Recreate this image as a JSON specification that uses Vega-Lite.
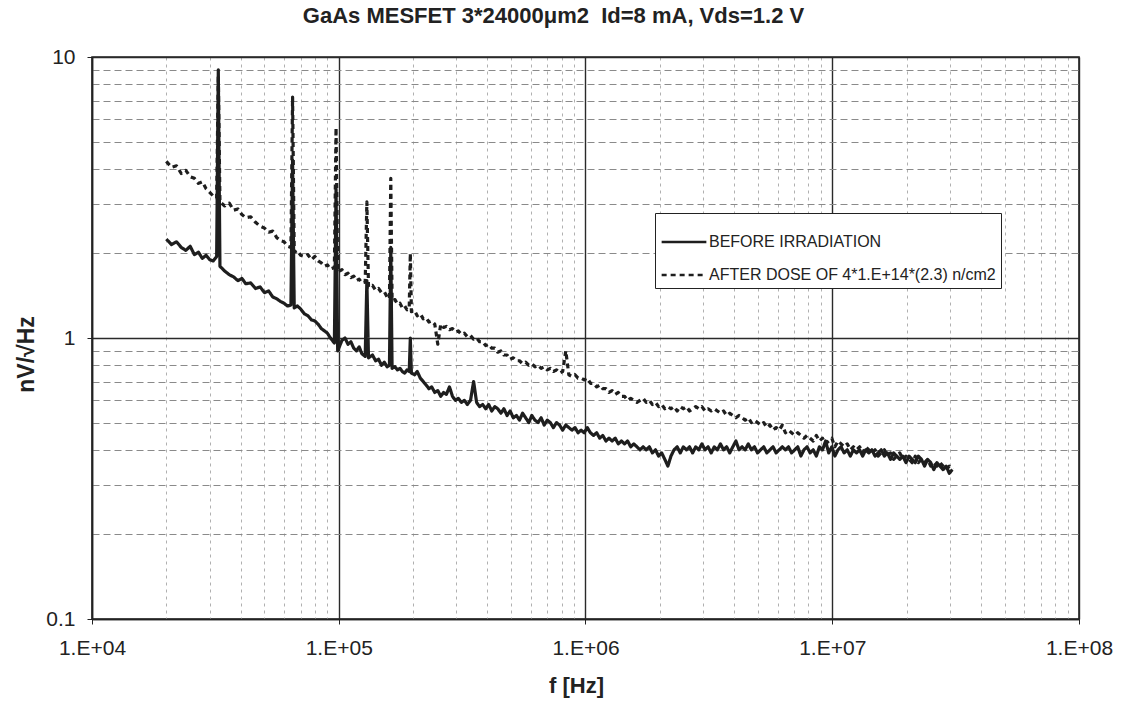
{
  "$schema": "https://vega.github.io/schema/vega-lite/v6.json",
  "width": 987,
  "height": 562,
  "autosize": "none",
  "padding": {"left": 92, "top": 57, "right": 53, "bottom": 86},
  "background": "white",
  "config": {
    "font": "Liberation Sans",
    "view": {"stroke": "#222", "strokeWidth": 1.6}
  },
  "title": {
    "text": "GaAs MESFET 3*24000μm2\u00a0\u00a0Id=8 mA, Vds=1.2 V",
    "font": "Liberation Sans",
    "fontSize": 22,
    "fontWeight": "bold",
    "color": "#222",
    "anchor": "middle",
    "dx": -32,
    "offset": 18
  },
  "data": {
    "values": [
      {"f":20000,"b":2.25,"a":4.25},{"f":21000,"b":2.15,"a":4.05},{"f":22000,"b":2.2,"a":4.1},{"f":23000,"b":2.1,"a":3.85},
      {"f":24000,"b":2.05,"a":3.95},{"f":25000,"b":2.12,"a":3.75},{"f":26000,"b":1.98,"a":3.7},{"f":27000,"b":2.02,"a":3.55},
      {"f":28000,"b":1.92,"a":3.6},{"f":29000,"b":1.97,"a":3.4},{"f":30000,"b":1.9,"a":3.3},{"f":31000,"b":1.88,"a":3.2},
      {"f":32000,"b":1.95,"a":3.15},{"f":32500,"b":9.0,"a":8.6},{"f":33000,"b":1.8,"a":3.05},{"f":34500,"b":1.73,"a":2.95},
      {"f":36000,"b":1.68,"a":3.02},{"f":37500,"b":1.65,"a":2.85},{"f":39000,"b":1.6,"a":2.88},{"f":40500,"b":1.63,"a":2.75},
      {"f":42000,"b":1.56,"a":2.68},{"f":44000,"b":1.57,"a":2.7},{"f":46000,"b":1.5,"a":2.58},{"f":48000,"b":1.52,"a":2.5},
      {"f":50000,"b":1.45,"a":2.46},{"f":52000,"b":1.47,"a":2.38},{"f":54000,"b":1.4,"a":2.4},{"f":56000,"b":1.38,"a":2.28},
      {"f":58000,"b":1.35,"a":2.22},{"f":60000,"b":1.33,"a":2.2},{"f":62000,"b":1.3,"a":2.12},{"f":64000,"b":1.31,"a":2.1},
      {"f":65000,"b":4.3,"a":7.2},{"f":66000,"b":1.28,"a":2.02},{"f":68000,"b":1.3,"a":2.05},{"f":70000,"b":1.27,"a":1.97},
      {"f":72500,"b":1.22,"a":1.95},{"f":75000,"b":1.2,"a":1.98},{"f":77500,"b":1.16,"a":1.9},{"f":80000,"b":1.15,"a":1.95},
      {"f":82500,"b":1.12,"a":1.88},{"f":85000,"b":1.08,"a":1.85},{"f":87500,"b":1.06,"a":1.8},{"f":90000,"b":1.04,"a":1.82},
      {"f":92500,"b":1.0,"a":1.76},{"f":96000,"b":0.96,"a":1.78},{"f":97500,"b":3.4,"a":5.6},{"f":99000,"b":0.9,"a":1.72},
      {"f":103000,"b":0.98,"a":1.75},{"f":106000,"b":1.0,"a":1.68},{"f":109000,"b":0.95,"a":1.7},{"f":112000,"b":0.97,"a":1.64},
      {"f":115000,"b":0.92,"a":1.66},{"f":118000,"b":0.9,"a":1.6},{"f":121000,"b":0.93,"a":1.62},{"f":124000,"b":0.88,"a":1.57},
      {"f":128000,"b":0.86,"a":1.58},{"f":130000,"b":1.6,"a":3.05},{"f":132000,"b":0.85,"a":1.52},{"f":137000,"b":0.87,"a":1.54},
      {"f":141000,"b":0.83,"a":1.48},{"f":145000,"b":0.84,"a":1.5},{"f":149000,"b":0.8,"a":1.45},{"f":153000,"b":0.82,"a":1.46},
      {"f":157000,"b":0.79,"a":1.4},{"f":160500,"b":0.8,"a":1.38},{"f":162500,"b":2.1,"a":3.7},{"f":164500,"b":0.78,"a":1.36},
      {"f":169000,"b":0.79,"a":1.37},{"f":173000,"b":0.77,"a":1.32},{"f":177000,"b":0.78,"a":1.33},{"f":181000,"b":0.76,"a":1.28},
      {"f":185000,"b":0.75,"a":1.3},{"f":189000,"b":0.77,"a":1.26},{"f":193000,"b":0.76,"a":1.27},{"f":195000,"b":1.0,"a":2.0},
      {"f":197000,"b":0.75,"a":1.24},{"f":203000,"b":0.74,"a":1.25},{"f":208000,"b":0.76,"a":1.2},{"f":214000,"b":0.72,"a":1.22},
      {"f":220000,"b":0.7,"a":1.17},{"f":226000,"b":0.68,"a":1.18},{"f":232000,"b":0.66,"a":1.14},{"f":238000,"b":0.67,"a":1.15},
      {"f":245000,"b":0.64,"a":1.12},{"f":252000,"b":0.65,"a":0.95},{"f":259000,"b":0.62,"a":1.12},{"f":266000,"b":0.64,"a":1.09},
      {"f":273000,"b":0.63,"a":1.1},{"f":281000,"b":0.67,"a":1.07},{"f":289000,"b":0.62,"a":1.08},{"f":297000,"b":0.6,"a":1.05},
      {"f":305000,"b":0.61,"a":1.06},{"f":314000,"b":0.59,"a":1.03},{"f":323000,"b":0.6,"a":1.04},{"f":332000,"b":0.58,"a":1.01},
      {"f":342000,"b":0.6,"a":1.02},{"f":352000,"b":0.7,"a":0.99},{"f":362000,"b":0.59,"a":1.0},{"f":372000,"b":0.57,"a":0.97},
      {"f":383000,"b":0.58,"a":0.97},{"f":394000,"b":0.56,"a":0.94},{"f":405000,"b":0.58,"a":0.95},{"f":417000,"b":0.55,"a":0.92},
      {"f":429000,"b":0.57,"a":0.92},{"f":441000,"b":0.56,"a":0.89},{"f":454000,"b":0.54,"a":0.9},{"f":467000,"b":0.56,"a":0.87},
      {"f":481000,"b":0.53,"a":0.87},{"f":495000,"b":0.55,"a":0.84},{"f":510000,"b":0.52,"a":0.85},{"f":525000,"b":0.53,"a":0.83},
      {"f":540000,"b":0.51,"a":0.83},{"f":556000,"b":0.54,"a":0.81},{"f":572000,"b":0.52,"a":0.82},{"f":589000,"b":0.5,"a":0.8},
      {"f":606000,"b":0.53,"a":0.81},{"f":624000,"b":0.51,"a":0.79},{"f":642000,"b":0.5,"a":0.8},{"f":661000,"b":0.52,"a":0.78},
      {"f":680000,"b":0.49,"a":0.79},{"f":700000,"b":0.51,"a":0.77},{"f":720000,"b":0.5,"a":0.78},{"f":741000,"b":0.48,"a":0.76},
      {"f":763000,"b":0.5,"a":0.77},{"f":785000,"b":0.49,"a":0.75},{"f":808000,"b":0.47,"a":0.76},{"f":832000,"b":0.49,"a":0.9},
      {"f":856000,"b":0.48,"a":0.74},{"f":881000,"b":0.47,"a":0.73},{"f":907000,"b":0.48,"a":0.74},{"f":933000,"b":0.46,"a":0.72},
      {"f":960000,"b":0.47,"a":0.72},{"f":988000,"b":0.46,"a":0.71},{"f":1017000,"b":0.48,"a":0.72},{"f":1047000,"b":0.46,"a":0.69},
      {"f":1078000,"b":0.45,"a":0.69},{"f":1110000,"b":0.46,"a":0.67},{"f":1142000,"b":0.44,"a":0.68},{"f":1175000,"b":0.45,"a":0.66},
      {"f":1210000,"b":0.43,"a":0.66},{"f":1245000,"b":0.44,"a":0.64},{"f":1282000,"b":0.43,"a":0.65},{"f":1320000,"b":0.44,"a":0.63},
      {"f":1358000,"b":0.42,"a":0.64},{"f":1398000,"b":0.43,"a":0.62},{"f":1439000,"b":0.42,"a":0.62},{"f":1481000,"b":0.43,"a":0.6},
      {"f":1525000,"b":0.41,"a":0.61},{"f":1570000,"b":0.42,"a":0.6},{"f":1616000,"b":0.41,"a":0.59},{"f":1663000,"b":0.4,"a":0.6},
      {"f":1712000,"b":0.41,"a":0.61},{"f":1762000,"b":0.4,"a":0.59},{"f":1814000,"b":0.41,"a":0.6},{"f":1867000,"b":0.39,"a":0.58},
      {"f":1922000,"b":0.4,"a":0.59},{"f":1978000,"b":0.38,"a":0.57},{"f":2036000,"b":0.39,"a":0.58},{"f":2096000,"b":0.37,"a":0.56},
      {"f":2157000,"b":0.35,"a":0.57},{"f":2220000,"b":0.38,"a":0.56},{"f":2285000,"b":0.4,"a":0.57},{"f":2352000,"b":0.41,"a":0.55},
      {"f":2421000,"b":0.39,"a":0.57},{"f":2492000,"b":0.41,"a":0.56},{"f":2565000,"b":0.4,"a":0.57},{"f":2640000,"b":0.41,"a":0.55},
      {"f":2717000,"b":0.39,"a":0.56},{"f":2797000,"b":0.41,"a":0.57},{"f":2879000,"b":0.4,"a":0.56},{"f":2963000,"b":0.42,"a":0.57},
      {"f":3050000,"b":0.4,"a":0.55},{"f":3139000,"b":0.41,"a":0.56},{"f":3231000,"b":0.39,"a":0.55},{"f":3326000,"b":0.41,"a":0.56},
      {"f":3423000,"b":0.4,"a":0.55},{"f":3523000,"b":0.42,"a":0.54},{"f":3626000,"b":0.4,"a":0.55},{"f":3732000,"b":0.41,"a":0.53},
      {"f":3842000,"b":0.39,"a":0.54},{"f":3954000,"b":0.41,"a":0.53},{"f":4070000,"b":0.43,"a":0.52},{"f":4189000,"b":0.4,"a":0.53},
      {"f":4312000,"b":0.41,"a":0.52},{"f":4438000,"b":0.4,"a":0.51},{"f":4568000,"b":0.42,"a":0.52},{"f":4702000,"b":0.4,"a":0.5},
      {"f":4840000,"b":0.41,"a":0.51},{"f":4981000,"b":0.39,"a":0.5},{"f":5127000,"b":0.4,"a":0.49},{"f":5277000,"b":0.41,"a":0.5},
      {"f":5432000,"b":0.39,"a":0.48},{"f":5591000,"b":0.4,"a":0.49},{"f":5755000,"b":0.41,"a":0.47},{"f":5923000,"b":0.39,"a":0.48},
      {"f":6097000,"b":0.4,"a":0.47},{"f":6275000,"b":0.41,"a":0.49},{"f":6459000,"b":0.4,"a":0.46},{"f":6648000,"b":0.41,"a":0.47},
      {"f":6843000,"b":0.39,"a":0.46},{"f":7043000,"b":0.4,"a":0.45},{"f":7249000,"b":0.41,"a":0.46},{"f":7461000,"b":0.38,"a":0.45},
      {"f":7680000,"b":0.4,"a":0.44},{"f":7905000,"b":0.41,"a":0.45},{"f":8136000,"b":0.39,"a":0.44},{"f":8374000,"b":0.4,"a":0.43},
      {"f":8619000,"b":0.38,"a":0.45},{"f":8872000,"b":0.41,"a":0.43},{"f":9131000,"b":0.4,"a":0.44},{"f":9399000,"b":0.43,"a":0.42},
      {"f":9674000,"b":0.39,"a":0.43},{"f":9957000,"b":0.41,"a":0.44},{"f":10250000,"b":0.38,"a":0.41},{"f":10550000,"b":0.4,"a":0.43},
      {"f":10860000,"b":0.41,"a":0.42},{"f":11170000,"b":0.39,"a":0.41},{"f":11500000,"b":0.4,"a":0.42},{"f":11840000,"b":0.38,"a":0.4},
      {"f":12180000,"b":0.4,"a":0.41},{"f":12540000,"b":0.39,"a":0.4},{"f":12910000,"b":0.4,"a":0.41},{"f":13280000,"b":0.38,"a":0.39},
      {"f":13670000,"b":0.4,"a":0.41},{"f":14070000,"b":0.39,"a":0.4},{"f":14480000,"b":0.4,"a":0.39},{"f":14910000,"b":0.38,"a":0.4},
      {"f":15340000,"b":0.39,"a":0.38},{"f":15790000,"b":0.4,"a":0.39},{"f":16260000,"b":0.38,"a":0.4},{"f":16730000,"b":0.39,"a":0.38},
      {"f":17220000,"b":0.37,"a":0.39},{"f":17730000,"b":0.39,"a":0.37},{"f":18250000,"b":0.38,"a":0.38},{"f":18780000,"b":0.37,"a":0.39},
      {"f":19330000,"b":0.38,"a":0.37},{"f":19900000,"b":0.36,"a":0.38},{"f":20480000,"b":0.38,"a":0.37},{"f":21080000,"b":0.37,"a":0.36},
      {"f":21700000,"b":0.36,"a":0.38},{"f":22330000,"b":0.38,"a":0.36},{"f":22990000,"b":0.37,"a":0.37},{"f":23660000,"b":0.35,"a":0.36},
      {"f":24350000,"b":0.37,"a":0.37},{"f":25070000,"b":0.36,"a":0.35},{"f":25800000,"b":0.34,"a":0.36},{"f":26560000,"b":0.36,"a":0.35},
      {"f":27330000,"b":0.35,"a":0.36},{"f":28130000,"b":0.34,"a":0.35},{"f":28960000,"b":0.35,"a":0.34},{"f":29810000,"b":0.33,"a":0.35},
      {"f":30680000,"b":0.34,"a":0.34}
    ]
  },
  "transform": [{"fold": ["b", "a"], "as": ["series", "v"]}],
  "mark": {"type": "line", "strokeWidth": 3.2, "color": "#1e1e1e", "clip": true, "strokeJoin": "round"},
  "encoding": {
    "x": {
      "field": "f",
      "type": "quantitative",
      "scale": {"type": "log", "domain": [10000, 100000000], "nice": false},
      "axis": {
        "values": [10000,20000,30000,40000,50000,60000,70000,80000,90000,100000,200000,300000,400000,500000,600000,700000,800000,900000,1000000,2000000,3000000,4000000,5000000,6000000,7000000,8000000,9000000,10000000,20000000,30000000,40000000,50000000,60000000,70000000,80000000,90000000,100000000],
        "labelExpr": "datum.value == 10000 ? '1.E+04' : datum.value == 100000 ? '1.E+05' : datum.value == 1000000 ? '1.E+06' : datum.value == 10000000 ? '1.E+07' : datum.value == 100000000 ? '1.E+08' : ''",
        "labelFont": "Liberation Sans",
        "labelFontSize": 21,
        "labelColor": "#222",
        "labelPadding": 13,
        "labelFlush": false,
        "labelOverlap": false,
        "domainColor": "#222",
        "domainWidth": 1.6,
        "tickSize": 5,
        "tickColor": "#222",
        "tickOpacity": {"condition": {"test": "indexof([10000,100000,1000000,10000000,100000000], datum.value) >= 0", "value": 1}, "value": 0},
        "grid": true,
        "gridColor": {"condition": {"test": "indexof([10000,100000,1000000,10000000,100000000], datum.value) >= 0", "value": "#2a2a2a"}, "value": "#b0b0b0"},
        "gridWidth": {"condition": {"test": "indexof([10000,100000,1000000,10000000,100000000], datum.value) >= 0", "value": 1.4}, "value": 1},
        "gridDash": {"condition": {"test": "indexof([10000,100000,1000000,10000000,100000000], datum.value) >= 0", "value": []}, "value": [3, 4]},
        "gridOpacity": 1,
        "title": "f [Hz]",
        "titleFont": "Liberation Sans",
        "titleFontSize": 22,
        "titleFontWeight": "bold",
        "titleColor": "#222",
        "titleX": 484,
        "titleY": 66,
        "titleBaseline": "middle",
        "titleAlign": "center"
      }
    },
    "y": {
      "field": "v",
      "type": "quantitative",
      "scale": {"type": "log", "domain": [0.1, 10], "nice": false},
      "axis": {
        "values": [0.1,0.2,0.3,0.4,0.5,0.6,0.7,0.8,0.9,1,2,3,4,5,6,7,8,9,10],
        "labelExpr": "datum.value == 0.1 ? '0.1' : datum.value == 1 ? '1' : datum.value == 10 ? '10' : ''",
        "labelFont": "Liberation Sans",
        "labelFontSize": 21,
        "labelColor": "#222",
        "labelPadding": 12,
        "labelFlush": false,
        "labelOverlap": false,
        "domainColor": "#222",
        "domainWidth": 1.6,
        "tickSize": 5,
        "tickColor": "#222",
        "tickOpacity": {"condition": {"test": "indexof([0.1,1,10], datum.value) >= 0", "value": 1}, "value": 0},
        "grid": true,
        "gridColor": {"condition": {"test": "indexof([0.1,1,10], datum.value) >= 0", "value": "#2a2a2a"}, "value": "#8a8a8a"},
        "gridWidth": {"condition": {"test": "indexof([0.1,1,10], datum.value) >= 0", "value": 1.4}, "value": 1},
        "gridDash": {"condition": {"test": "indexof([0.1,1,10], datum.value) >= 0", "value": []}, "value": [7, 4]},
        "gridOpacity": 1,
        "title": "nV/√Hz",
        "titleFont": "Liberation Sans",
        "titleFontSize": 23,
        "titleFontWeight": "bold",
        "titleColor": "#222",
        "titleAngle": -90,
        "titleX": -66,
        "titleY": 297,
        "titleBaseline": "middle",
        "titleAlign": "center"
      }
    },
    "strokeDash": {
      "field": "series",
      "type": "nominal",
      "scale": {"domain": ["b", "a"], "range": [[1, 0], [5, 4]]},
      "legend": {
        "title": null,
        "orient": "none",
        "legendX": 563,
        "legendY": 156,
        "direction": "vertical",
        "labelExpr": "datum.label == 'b' ? 'BEFORE IRRADIATION' : 'AFTER DOSE OF 4*1.E+14*(2.3) n/cm2'",
        "labelFont": "Liberation Sans",
        "labelFontSize": 16,
        "labelColor": "#222",
        "labelOffset": 1,
        "labelLimit": 400,
        "symbolType": "stroke",
        "symbolSize": 2000,
        "symbolStrokeWidth": 2.6,
        "symbolStrokeColor": "#1e1e1e",
        "rowPadding": 1,
        "padding": 5,
        "strokeColor": "#222",
        "fillColor": "white"
      }
    }
  }
}
